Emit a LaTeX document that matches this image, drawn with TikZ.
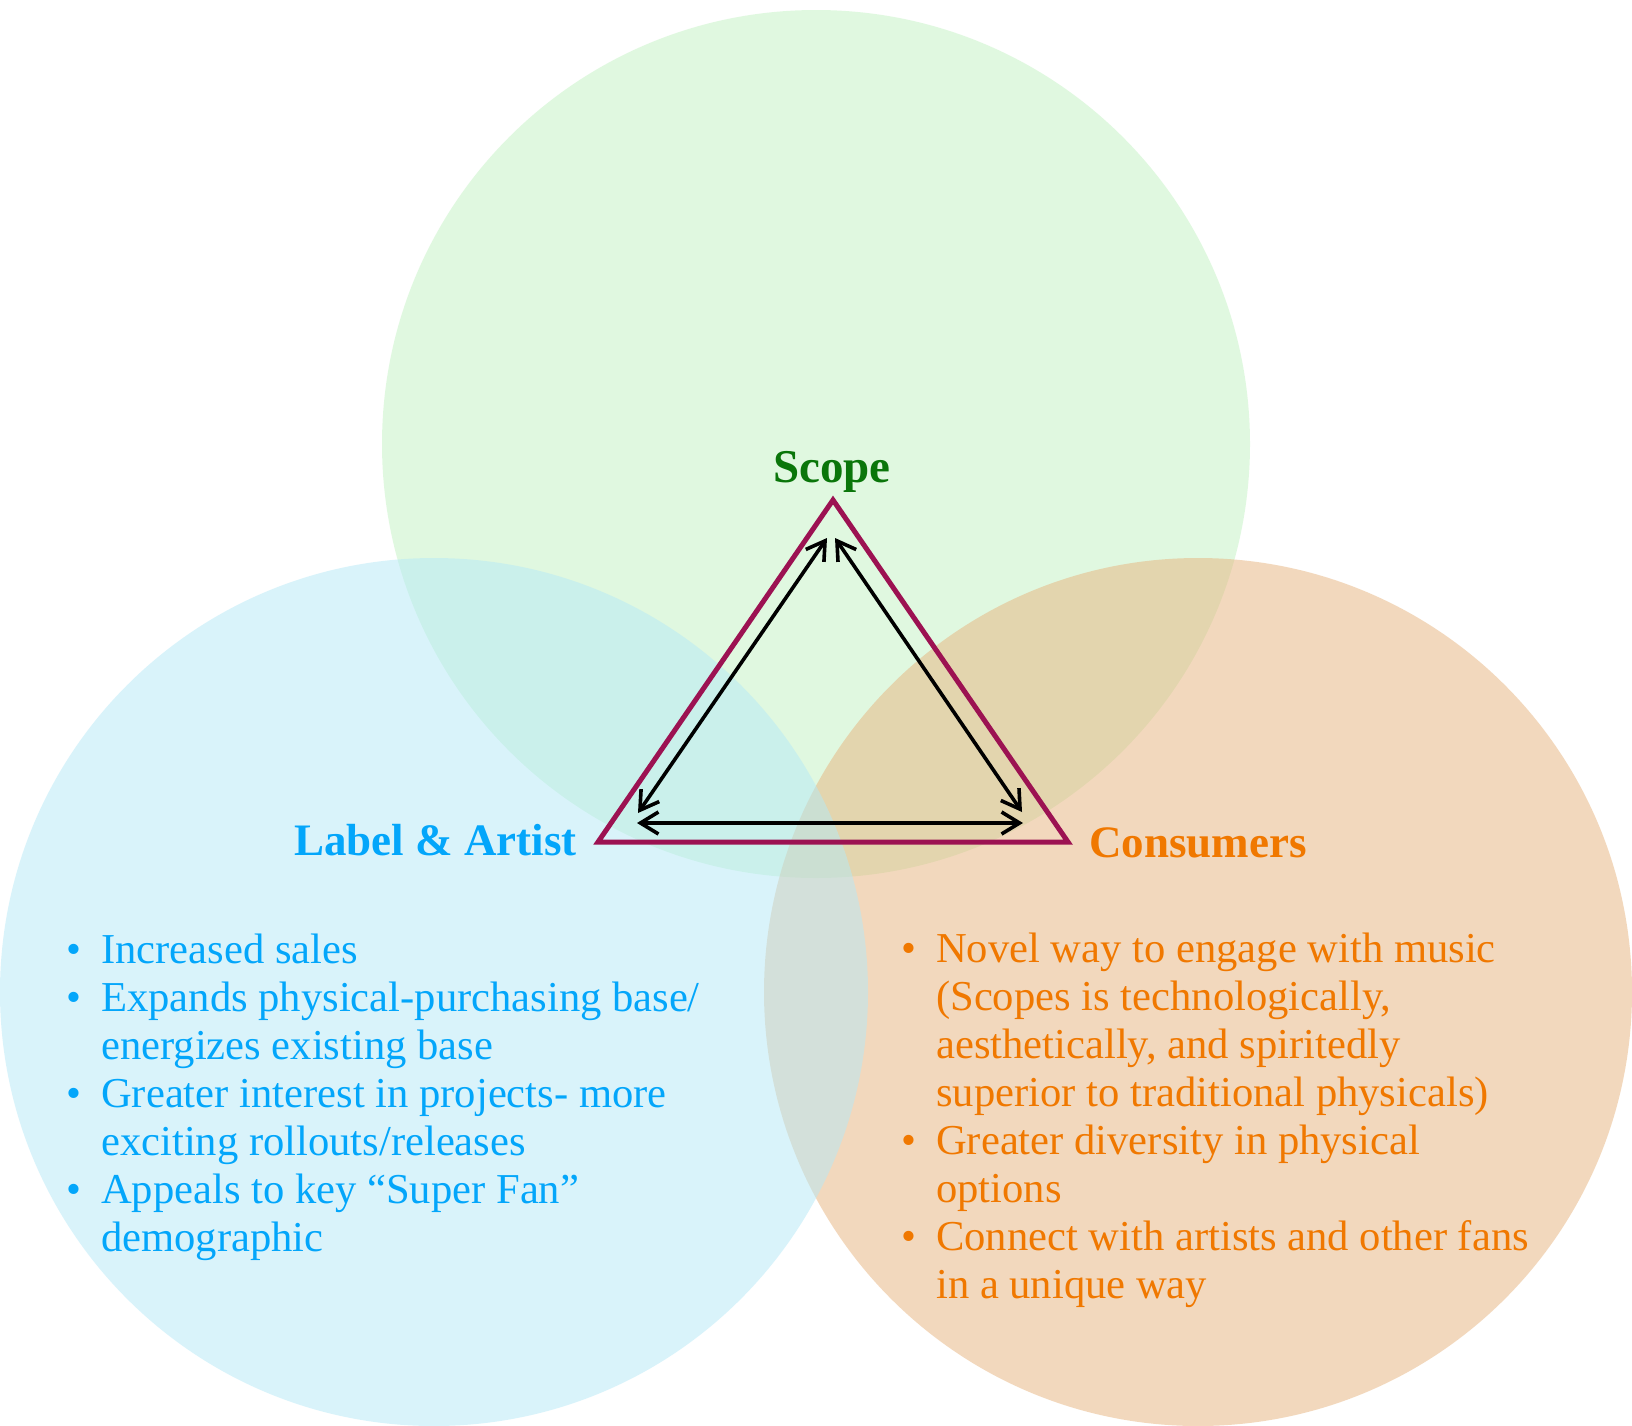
\documentclass[tikz,border=0pt]{standalone}
\usepackage{fontspec}
\setmainfont{Liberation Serif}
\usetikzlibrary{arrows.meta}
\definecolor{cgreen}{RGB}{195,243,195}
\definecolor{cblue}{RGB}{181,233,247}
\definecolor{corange}{RGB}{231,179,125}
\definecolor{tgreen}{RGB}{10,118,10}
\definecolor{tblue}{RGB}{3,166,250}
\definecolor{torange}{RGB}{240,120,0}
\definecolor{tri}{RGB}{156,18,82}
\tikzset{
  venn/.style={fill opacity=0.5},
  head/.style={inner sep=0pt, font=\fontsize{45pt}{50pt}\selectfont\bfseries},
  txt/.style={inner sep=0pt, anchor=base west, font=\fontsize{42.6pt}{48pt}\selectfont},
  triline/.style={draw=tri, line width=5pt, line join=miter},
  link/.style={draw=black, line width=3.6pt, {Straight Barb[length=18pt,width=22pt]}-{Straight Barb[length=18pt,width=22pt]}}
}
\newcommand{\bul}{\llap{\textbullet\hspace{20pt}}}
\begin{document}
\begin{tikzpicture}[x=1pt,y=-1pt]
\useasboundingbox (0,0) rectangle (1632,1425);
\fill[white] (0,0) rectangle (1632,1425);
% circles
\fill[venn, cgreen] (816,444) circle[radius=434pt];
\fill[venn, corange] (1198,992) circle[radius=434pt];
\fill[venn, cblue] (434,992) circle[radius=434pt];
% headings
\node[head, text=tgreen, anchor=base, font=\fontsize{47pt}{52pt}\selectfont\bfseries] (scope) at (832,482) {Scope};
\node[head, text=tblue, anchor=base west] (label) at (294,855) {Label \& Artist};
\node[head, text=torange, anchor=base west] (cons) at (1089,857) {Consumers};
% triangle
\coordinate (tT) at (833,500);
\coordinate (tL) at (598,842);
\coordinate (tR) at (1068,842);
\draw[triline] (tT) -- (tL) -- (tR) -- cycle;
% arrows
\coordinate (aTL) at (827,538);
\coordinate (aTR) at (835,538);
\coordinate (aL1) at (638,813);
\coordinate (aR1) at (1022,812);
\coordinate (aL2) at (637,823);
\coordinate (aR2) at (1023,823);
\draw[link] (aTL) -- (aL1);
\draw[link] (aTR) -- (aR1);
\draw[link] (aL2) -- (aR2);
% left list
\begin{scope}[text=tblue]
\node[txt] (l1) at (101,963) {\bul Increased sales};
\node[txt] (l2) at (101,1011) {\bul Expands physical-purchasing base/};
\node[txt] (l3) at (101,1059) {energizes existing base};
\node[txt] (l4) at (101,1107) {\bul Greater interest in projects- more};
\node[txt] (l5) at (101,1155) {exciting rollouts/releases};
\node[txt] (l6) at (101,1203) {\bul Appeals to key “Super Fan”};
\node[txt] (l7) at (101,1251) {demographic};
\end{scope}
% right list
\begin{scope}[text=torange]
\node[txt] (r1) at (936,962) {\bul Novel way to engage with music};
\node[txt] (r2) at (936,1010) {(Scopes is technologically,};
\node[txt] (r3) at (936,1058) {aesthetically, and spiritedly};
\node[txt] (r4) at (936,1106) {superior to traditional physicals)};
\node[txt] (r5) at (936,1154) {\bul Greater diversity in physical};
\node[txt] (r6) at (936,1202) {options};
\node[txt] (r7) at (936,1250) {\bul Connect with artists and other fans};
\node[txt] (r8) at (936,1298) {in a unique way};
\end{scope}
\end{tikzpicture}
\end{document}
